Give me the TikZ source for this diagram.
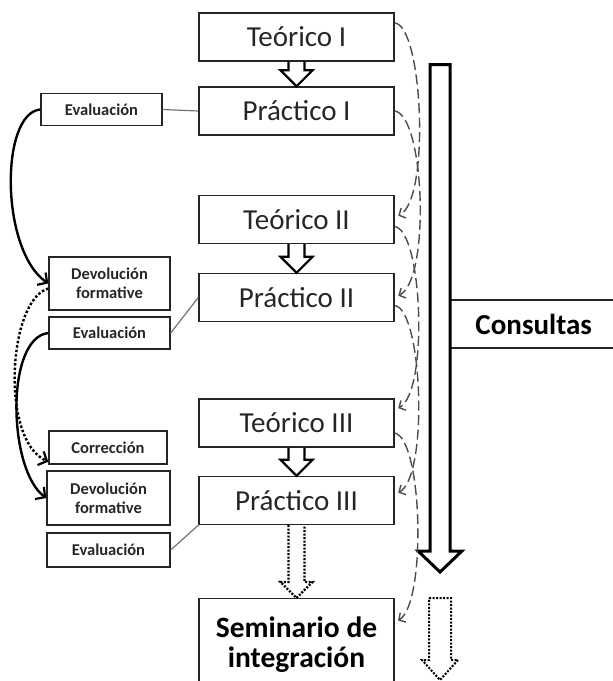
\documentclass[tikz,border=0pt]{standalone}
\usepackage{fontspec}
\setmainfont{Carlito}
\usetikzlibrary{arrows.meta,calc}

\tikzset{
  box/.style={draw=black!85,line width=1.4pt,minimum width=195pt,minimum height=48pt,inner sep=0pt,text=black!85,font=\fontsize{29}{30}\selectfont},
  smallbox/.style={draw=black!85,line width=1.4pt,minimum width=121pt,minimum height=32pt,inner sep=0pt,align=center,text=black!85,font=\bfseries\fontsize{16.5}{19}\selectfont},
  link/.style={draw=black!55,line width=1.2pt},
  backarrow/.style={line width=2.4pt,-{Straight Barb[length=7pt,width=15pt,line width=2.2pt]}},
  consult/.style={black!70,line width=1.4pt,dash pattern=on 10pt off 4.5pt,shorten >=4pt,-{Straight Barb[length=5pt,width=11pt]}},
  hollow/.style={line width=2.2pt,line join=miter,to path={let \p1=(\tikztostart),\p2=(\tikztotarget) in
      ({\x1-8pt},\y1) -- ({\x1-8pt},{\y2+16pt}) -- ({\x1-16pt},{\y2+16pt}) -- (\x1,\y2)
      -- ({\x1+16pt},{\y2+16pt}) -- ({\x1+8pt},{\y2+16pt}) -- ({\x1+8pt},\y1)}}
}

\begin{document}
\begin{tikzpicture}[x=1pt,y=-1pt]
  \useasboundingbox (0,0) rectangle (613,681);
  % centre column
  \node[box] (t1) at (296.5,37) {Teórico I};
  \node[box] (p1) at (296.5,111) {Práctico I};
  \node[box] (t2) at (296.5,219.5) {Teórico II};
  \node[box] (p2) at (296.5,297.5) {Práctico II};
  \node[box] (t3) at (296.5,423) {Teórico III};
  \node[box] (p3) at (296.5,500.5) {Práctico III};
  \node[box,anchor=north,minimum height=92pt,align=center,text=black,
    font=\bfseries\fontsize{29.5}{30}\selectfont] (sem) at (296.5,598) {Seminario de\\integración};
  \draw[hollow] (t1.south) to (p1.north);
  \draw[hollow] (t2.south) to (p2.north);
  \draw[hollow] (t3.south) to (p3.north);
  \draw[hollow,dash pattern=on 2pt off 1.5pt] (p3.south) to (sem.north);

  % left column
  \node[smallbox] (ev1) at (101.5,109.5) {Evaluación};
  \node[smallbox,minimum height=53pt] (dev1) at (109.5,283.5) {Devolución\\formative};
  \node[smallbox] (ev2) at (109.5,333) {Evaluación};
  \node[smallbox,minimum width=118pt,minimum height=33pt] (cor) at (108,447.5) {Corrección};
  \node[smallbox,minimum width=123pt,minimum height=54pt] (dev2) at (108.5,498) {Devolución\\formative};
  \node[smallbox,minimum width=123pt,minimum height=34pt] (ev3) at (108.5,550) {Evaluación};
  \draw[link] (ev1.east) -- (p1.west);
  \draw[link] (ev2.east) -- (p2.west);
  \draw[link] (ev3.east) -- (p3.south west);
  \draw[backarrow] (ev1.west) .. controls (0,113) and (0,250) .. (dev1.west);
  \draw[backarrow,dash pattern=on 2.5pt off 2pt] ([yshift=-5pt]dev1.west) .. controls (8,300) and (0,440) .. ([yshift=3pt]cor.south west);
  \draw[backarrow] (ev2.west) .. controls (5,338) and (8,470) .. (dev2.west);

  % consultas
  \node[draw=black!85,line width=1.4pt,anchor=west,minimum width=166pt,minimum height=48pt,inner sep=0pt,
    font=\bfseries\fontsize{29}{30}\selectfont] (cons) at (450,324) {Consultas};
  \draw[line width=3pt,line join=miter] (430,64.5) -- (450,64.5) -- (450,551) -- (462,551)
    -- (440,572) -- (418,551) -- (430,551) -- cycle;
  \draw[line width=2pt,dash pattern=on 2pt off 1.5pt] (429,598) -- (451,598) -- (451,660) -- (458,660)
    -- (440,680) -- (422,660) -- (429,660) -- cycle;
  \draw[consult] ([yshift=14pt]t1.east) .. controls +(28,2) and +(36,-18) .. ([yshift=2pt]t2.east);
  \draw[consult] (p1.east) .. controls +(30,4) and +(36,-18) .. (p2.east);
  \draw[consult] ([yshift=-7pt]t2.east) .. controls +(28,4) and +(34,-18) .. ([yshift=13pt]t3.east);
  \draw[consult] ([yshift=-8pt]p2.east) .. controls +(28,4) and +(34,-18) .. ([yshift=6pt]p3.east);
  \draw[consult] ([yshift=-10pt]t3.east) .. controls +(28,6) and +(32,-20) .. ([yshift=22pt]sem.east);
\end{tikzpicture}
\end{document}
